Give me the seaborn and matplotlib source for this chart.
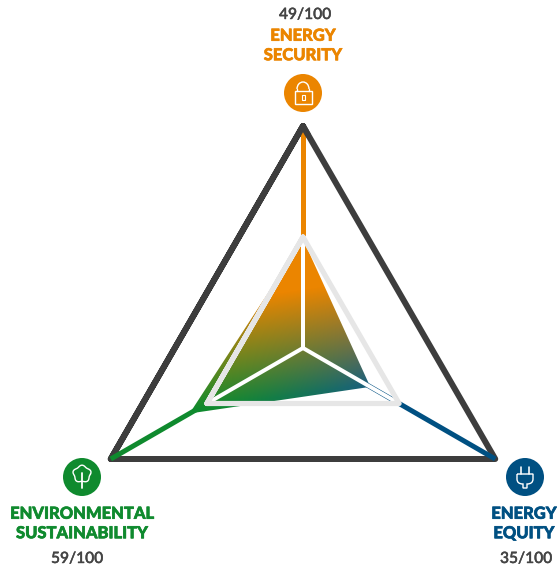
import numpy as np
import pandas as pd
import seaborn as sns
import matplotlib
matplotlib.use("Agg")
import matplotlib.pyplot as plt
import matplotlib.patheffects as pe
from matplotlib.patches import Circle, Polygon, Rectangle, Arc, PathPatch
from matplotlib.path import Path

# ---- data
dimensions = ["ENERGY\nSECURITY", "ENVIRONMENTAL\nSUSTAINABILITY", "ENERGY\nEQUITY"]
scores = [49, 59, 35]
score_labels = ["49/100", "59/100", "35/100"]
reference_level = [50, 50, 50]
full_level = [100, 100, 100]
colors = ["#EB8500", "#0F8A2E", "#005082"]

# ---- layout / style
W, H = 557, 570
CX, CY, UNIT = 303.0, 348.0, 2.22
angles = np.deg2rad([90, 210, 330])
DARK, PALE, TEXT = "#3D3D3D", "#E6E6E6", "#444444"

sns.set_theme(style="white")
plt.rcParams["font.family"] = ["Lato", "DejaVu Sans"]
fig = plt.figure(figsize=(W / 100, H / 100), dpi=100)
ax = fig.add_axes([0, 0, 1, 1])
ax.set_xlim(0, W)
ax.set_ylim(H, 0)
ax.axis("off")
lw = lambda px: px * 72 / 100


def to_xy(values):
    v = np.asarray(values, float)
    return CX + v * UNIT * np.cos(angles), CY - v * UNIT * np.sin(angles)


def closed_line(values, color, width, z):
    x, y = to_xy(values)
    d = pd.DataFrame({"x": np.r_[x, x[0], x[1]], "y": np.r_[y, y[0], y[1]]})
    sns.lineplot(data=d, x="x", y="y", sort=False, estimator=None, ax=ax, color=color,
                 linewidth=lw(width), zorder=z, solid_joinstyle="round",
                 solid_capstyle="round")


fx, fy = to_xy(full_level)
sx, sy = to_xy(scores)
rx, ry = to_xy(reference_level)

# outer triangle
closed_line(full_level, DARK, 6, 2)

# coloured axes, centre to full score
for i, c in enumerate(colors):
    d = pd.DataFrame({"x": [CX, fx[i]], "y": [CY, fy[i]]})
    sns.lineplot(data=d, x="x", y="y", sort=False, estimator=None, ax=ax, color=c,
                 linewidth=lw(5), zorder=3, solid_capstyle="butt")
# dark tip stays on top of the coloured axis at the top vertex
ax.plot([fx[0] - 5, fx[0], fx[0] + 5], [fy[0] + 9, fy[0], fy[0] + 9], color=DARK,
        lw=lw(6), zorder=3.5, solid_joinstyle="round", solid_capstyle="round")

# score polygon filled with a three-colour blend
xx, yy = np.meshgrid(np.arange(0, W, 1.0) + .5, np.arange(0, H, 1.0) + .5)
T = np.c_[sx - sx[2], sy - sy[2]][:2].T
Ti = np.linalg.inv(T)
l0 = Ti[0, 0] * (xx - sx[2]) + Ti[0, 1] * (yy - sy[2])
top_w = np.clip((l0 - .02) / .66, 0, 1)[..., None]
side = np.clip(((xx - sx[1]) / (sx[2] - sx[1]) - .1) / .9, 0, 1)[..., None] ** 1.3
rgb = lambda h: np.array(matplotlib.colors.to_rgb(h))
bottom = rgb(colors[1]) * (1 - side) + rgb("#1D5F7E") * side
img = rgb(colors[0]) * top_w + bottom * (1 - top_w)
im = ax.imshow(img, extent=(0, W, H, 0), zorder=4, aspect="auto", interpolation="bilinear")
im.set_clip_path(Polygon(np.c_[sx, sy], closed=True, transform=ax.transData))
ax.set_xlim(0, W)
ax.set_ylim(H, 0)

# white spokes and the pale reference triangle
for i in range(3):
    d = pd.DataFrame({"x": [CX, rx[i]], "y": [CY, ry[i]]})
    sns.lineplot(data=d, x="x", y="y", sort=False, estimator=None, ax=ax, color="white",
                 linewidth=lw(4), zorder=5, solid_capstyle="round")
closed_line(reference_level, PALE, 5.2, 6)

# icon discs
centers = [(303, 93), (82, 477), (525, 477)]
for (cx, cy), c in zip(centers, colors):
    ax.add_patch(Circle((cx, cy), 19, fc=c, ec="none", zorder=7))


def stroke(xs, ys, width=1.4):
    ax.plot(xs, ys, color="white", lw=lw(width), zorder=8, solid_capstyle="round",
            solid_joinstyle="round")


# lock
cx, cy = centers[0]
ax.add_patch(Rectangle((cx - 8.5, cy - 2), 17, 13, fc="none", ec="white", lw=lw(1.4), zorder=8))
ax.add_patch(Arc((cx, cy - 4), 12, 14, theta1=180, theta2=360, ec="white", lw=lw(1.4), zorder=8))
stroke([cx - 6, cx - 6], [cy - 4, cy - 2])
stroke([cx + 6, cx + 6], [cy - 4, cy - 2])
ax.add_patch(Rectangle((cx - 1.5, cy + 2), 3, 5, fc="none", ec="white", lw=lw(1.1), zorder=8))

# tree
cx, cy = centers[1]
t = np.linspace(0, 2 * np.pi, 60)
r = 8.5 + 0.8 * np.cos(5 * t + np.pi / 2)
stroke(cx + r * np.cos(t), cy - 3 + r * np.sin(t) * .95)
stroke([cx, cx], [cy - 4, cy + 11], 1.8)

# plug
cx, cy = centers[2]
stroke([cx - 4, cx - 4], [cy - 10, cy - 3], 1.6)
stroke([cx + 4, cx + 4], [cy - 10, cy - 3], 1.6)
verts = [(cx - 8, cy - 3), (cx + 8, cy - 3), (cx + 8, cy + 2), (cx + 8, cy + 7), (cx + 2, cy + 7),
         (cx + 2, cy + 11), (cx - 2, cy + 11), (cx - 2, cy + 7), (cx - 8, cy + 7), (cx - 8, cy + 2),
         (cx - 8, cy - 3)]
codes = [Path.MOVETO, Path.LINETO, Path.LINETO, Path.CURVE3, Path.CURVE3, Path.LINETO, Path.LINETO,
         Path.LINETO, Path.CURVE3, Path.CURVE3, Path.LINETO]
ax.add_patch(PathPatch(Path(verts, codes), fc="none", ec="white", lw=lw(1.4), zorder=8))

# labels
name_fs, score_fs = 11.9, 11.2
name_pos = [(303, 45.5), (82, 523.5), (524, 523.5)]
score_pos = [(305, 15), (77, 559), (526, 559)]
for (nx, ny), (tx, ty), name, lab, c in zip(name_pos, score_pos, dimensions, score_labels, colors):
    ax.text(nx, ny, name, color=c, ha="center", va="center", fontsize=name_fs, fontweight="black",
            linespacing=1.27, clip_on=False,
            path_effects=[pe.withStroke(linewidth=0.45, foreground=c)])
    ax.text(tx, ty, lab, color=TEXT, ha="center", va="center", fontsize=score_fs,
            fontweight="medium", clip_on=False,
            path_effects=[pe.withStroke(linewidth=0.3, foreground=TEXT)])

fig.savefig("out.png", dpi=100, facecolor="white")
